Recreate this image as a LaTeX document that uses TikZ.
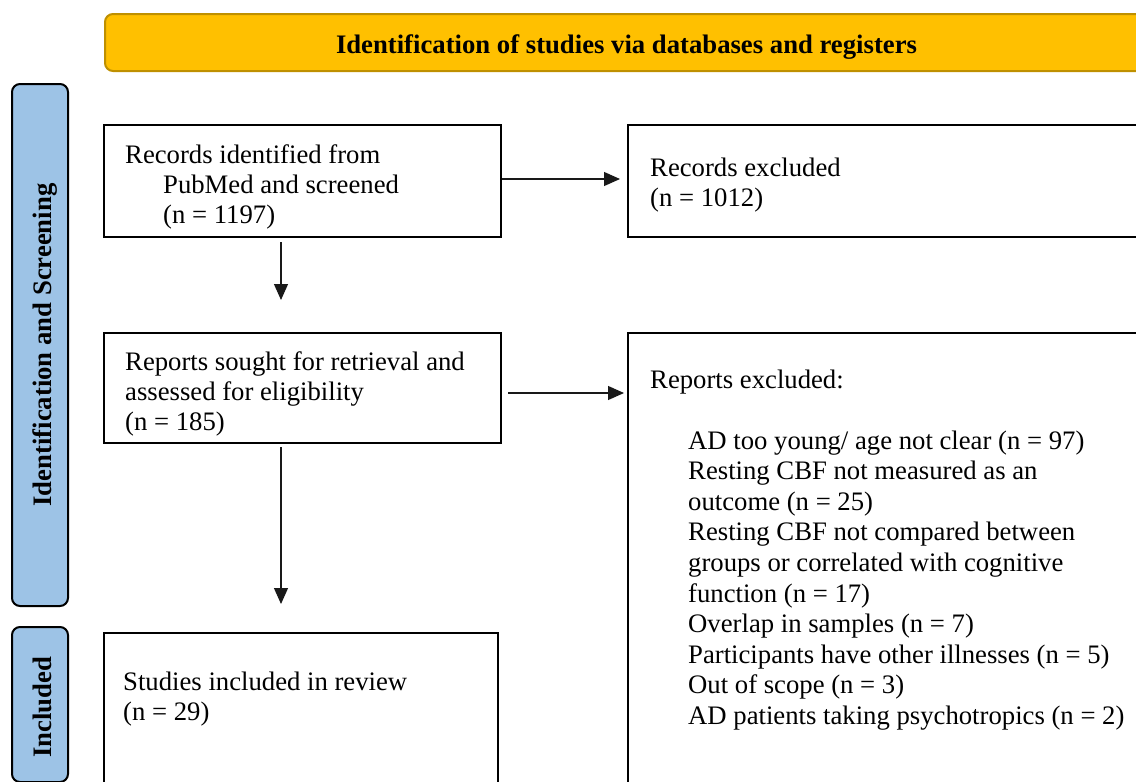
\documentclass[tikz,border=0pt]{standalone}
\usepackage{fontspec}
\setmainfont{Liberation Serif}
\usetikzlibrary{arrows.meta}
\definecolor{gold}{HTML}{FFC000}
\definecolor{golddark}{HTML}{BF9000}
\definecolor{sideblue}{HTML}{9DC3E6}
\newcommand{\fs}{\fontsize{26.7}{30.4}\selectfont}
\newcommand{\lines}[1]{\fs\begin{tabular}[t]{@{}l@{}}#1\end{tabular}}
\begin{document}
\begin{tikzpicture}[x=1pt,y=-1pt,
  box/.style={draw=black, line width=1.8pt, anchor=north west, inner sep=0pt, outer sep=0pt},
  side/.style={draw=black, fill=sideblue, line width=2pt, rounded corners=8pt, anchor=north west, inner sep=0pt},
  sidetxt/.style={rotate=90, anchor=base, inner sep=0pt, font=\fs\bfseries},
  txt/.style={anchor=base west, inner sep=0pt, font=\fs},
  arr/.style={-{Triangle[length=16pt,width=14pt]}, line width=1.2pt, draw=black!90, fill=black}]
\useasboundingbox (0,0) rectangle (1136,782);
\clip (0,0) rectangle (1136,782);

% banner
\node[draw=golddark, fill=gold, line width=2pt, rounded corners=8pt, anchor=north west,
      minimum width=1045pt, minimum height=57pt, inner sep=0pt] (ban) at (104,13) {};
\node[anchor=base, inner sep=0pt, font=\fs\bfseries] (bantxt) at (626.5,53)
      {Identification of studies via databases and registers};

% side bars
\node[side, minimum width=56pt, minimum height=522pt] (s1) at (11,83) {};
\node[sidetxt] (s1t) at (51.5,345) {Identification and Screening};
\node[side, minimum width=56pt, minimum height=155pt] (s2) at (11,626) {};
\node[sidetxt] (s2t) at (51.5,707.5) {Included};

% boxes
\node[box, minimum width=397pt, minimum height=112pt] (b1) at (104,125) {};
\node[box, minimum width=540pt, minimum height=112pt] (b2) at (628,125) {};
\node[box, minimum width=397pt, minimum height=110pt] (b3) at (104,333) {};
\node[box, minimum width=540pt, minimum height=480pt] (b4) at (628,333) {};
\node[box, minimum width=394pt, minimum height=180pt] (b5) at (104,633) {};

% texts
\node[txt] (t1) at (125,163) {\lines{Records identified from\\ \hspace*{38pt}PubMed and screened\\ \hspace*{38pt}(n = 1197)}};
\node[txt] (t2) at (650,176) {\lines{Records excluded\\ (n = 1012)}};
\node[txt] (t3) at (125,370) {\lines{Reports sought for retrieval and\\ assessed for eligibility\\ (n = 185)}};
\node[txt] (t4) at (650,388) {Reports excluded:};
\node[anchor=base west, inner sep=0pt] (t5) at (688,449) {\fontsize{26.7}{30.6}\selectfont\begin{tabular}[t]{@{}l@{}}AD too young/ age not clear (n = 97)\\
Resting CBF not measured as an\\
outcome (n = 25)\\
Resting CBF not compared between\\
groups or correlated with cognitive\\
function (n = 17)\\
Overlap in samples (n = 7)\\
Participants have other illnesses (n = 5)\\
Out of scope (n = 3)\\
AD patients taking psychotropics (n = 2)\end{tabular}};
\node[txt] (t6) at (123,690) {\lines{Studies included in review\\ (n = 29)}};

% arrows
\draw[arr, shorten <=1pt, shorten >=8pt] ([yshift=2pt]b1.east) -- ([yshift=2pt]b1.east -| b2.west);
\draw[arr, shorten <=7pt, shorten >=4pt] ([yshift=-5pt]b3.east) -- ([yshift=-5pt]b3.east -| b4.west);
\draw[arr, shorten <=5pt, shorten >=33pt] ([xshift=-21.5pt]b1.south) -- ([xshift=-21.5pt]b1.south |- b3.north);
\draw[arr, shorten <=4pt, shorten >=29pt] ([xshift=-21.5pt]b3.south) -- ([xshift=-21.5pt]b3.south |- b5.north);
\end{tikzpicture}
\end{document}
